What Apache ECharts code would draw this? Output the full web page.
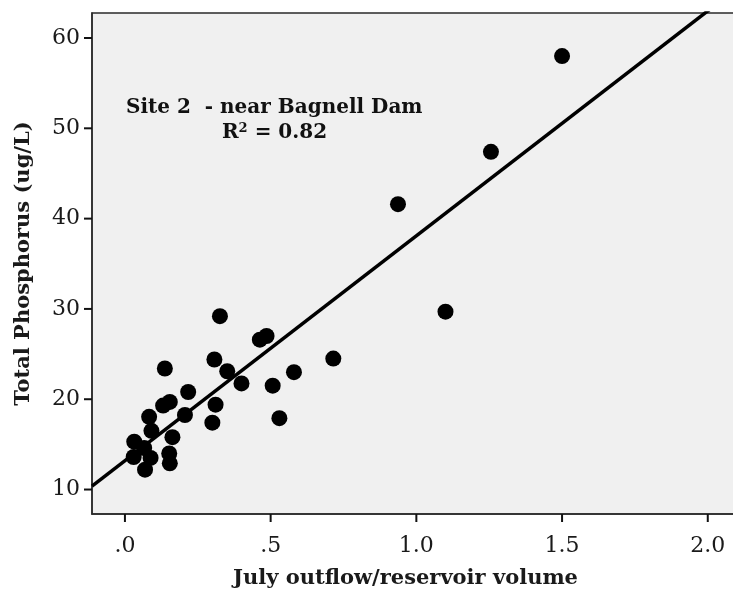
<!DOCTYPE html>
<html>
<head>
<meta charset="utf-8">
<script src="https://cdn.jsdelivr.net/npm/echarts@6/dist/echarts.min.js"></script>
<style>
html,body{margin:0;padding:0;background:#fff;}
#chart{width:733px;height:591px;}
</style>
</head>
<body>
<div id="chart"></div>
<script>
// ---- data ----
const outflowRatio = [1.50, 1.256, 0.937, 1.10, 0.715, 0.58, 0.53, 0.507, 0.463, 0.486,
  0.40, 0.351, 0.307, 0.326, 0.311, 0.30, 0.217, 0.206, 0.137, 0.154,
  0.131, 0.083, 0.091, 0.163, 0.152, 0.154, 0.032, 0.066, 0.030, 0.088, 0.069];
const totalPhosphorus = [58.0, 47.4, 41.6, 29.7, 24.5, 23.0, 17.9, 21.5, 26.6, 27.0,
  21.75, 23.1, 24.4, 29.2, 19.4, 17.4, 20.8, 18.25, 23.4, 19.7,
  19.3, 18.05, 16.5, 15.8, 14.0, 12.9, 15.3, 14.6, 13.6, 13.5, 12.2];
const fitIntercept = 13.2;
const fitSlope = 24.9;
const xTickValues = [0, 0.5, 1.0, 1.5, 2.0];
const xTickLabels = ['.0', '.5', '1.0', '1.5', '2.0'];
const yTickValues = [10, 20, 30, 40, 50, 60];
const yTickLabels = ['10', '20', '30', '40', '50', '60'];
const xRange = [-0.113, 2.09];
const yRange = [7.29, 62.77];

const points = outflowRatio.map((x, i) => [x, totalPhosphorus[i]]);
const fitLine = xRange.map(x => [x, fitIntercept + fitSlope * x]);

const serif = "'DejaVu Serif', 'Liberation Serif', serif";
const frameColor = '#2a2a2a';
const TICK_LEN = 8;

function tickSeries(data, vertical) {
  return {
    type: 'custom', data: data, clip: false, silent: true, z: 5,
    renderItem: function (params, api) {
      const p = api.coord([api.value(0), api.value(1)]);
      const shape = vertical
        ? {x1: p[0], y1: p[1], x2: p[0], y2: p[1] + TICK_LEN}
        : {x1: p[0] - TICK_LEN, y1: p[1], x2: p[0], y2: p[1]};
      return {type: 'line', shape: shape, style: {stroke: '#111', lineWidth: 2}};
    }
  };
}

const chart = echarts.init(document.getElementById('chart'), null, {renderer: 'canvas'});
chart.setOption({
  animation: false,
  backgroundColor: '#ffffff',
  grid: {
    left: 92, top: 13, width: 642, height: 501,
    show: true, backgroundColor: '#f0f0f0', borderColor: frameColor, borderWidth: 1.5,
    containLabel: false, outerBoundsMode: 'none'
  },
  xAxis: {
    type: 'value', min: xRange[0], max: xRange[1], position: 'bottom',
    splitLine: {show: false},
    axisLine: {show: true, onZero: false, lineStyle: {color: frameColor, width: 1.5}},
    axisTick: {show: false},
    axisLabel: {
      customValues: xTickValues, margin: 21,
      formatter: v => { const i = xTickValues.findIndex(t => Math.abs(t - v) < 1e-9); return i >= 0 ? xTickLabels[i] : ''; },
      fontFamily: serif, fontSize: 22, color: '#1a1a1a'
    },
    name: 'July outflow/reservoir volume', nameLocation: 'middle', nameGap: 54,
    nameTextStyle: {fontFamily: serif, fontSize: 21, fontWeight: 'bold', color: '#1a1a1a', padding: [0, 15, 0, 0]}
  },
  yAxis: {
    type: 'value', min: yRange[0], max: yRange[1], position: 'left',
    splitLine: {show: false},
    axisLine: {show: true, onZero: false, lineStyle: {color: frameColor, width: 1.5}},
    axisTick: {show: false},
    axisLabel: {
      customValues: yTickValues, margin: 12,
      formatter: v => { const i = yTickValues.findIndex(t => Math.abs(t - v) < 1e-9); return i >= 0 ? yTickLabels[i] : ''; },
      fontFamily: serif, fontSize: 22, color: '#1a1a1a'
    },
    name: 'Total Phosphorus (ug/L)', nameLocation: 'middle', nameGap: 58,
    nameTextStyle: {fontFamily: serif, fontSize: 21, fontWeight: 'bold', color: '#1a1a1a'}
  },
  series: [
    {
      type: 'line', data: fitLine, showSymbol: false, symbol: 'none', clip: true,
      lineStyle: {color: '#000', width: 3.5}, z: 2
    },
    {
      type: 'scatter', data: points, symbol: 'circle', symbolSize: 16,
      itemStyle: {color: '#000', opacity: 1}, z: 3
    },
    tickSeries(xTickValues.map(v => [v, yRange[0]]), true),
    tickSeries(yTickValues.map(v => [xRange[0], v]), false)
  ],
  graphic: [
    {
      type: 'text', left: 126, top: 98,
      style: {text: 'Site 2  - near Bagnell Dam', fontFamily: serif, fontSize: 20, fontWeight: 'bold', fill: '#111'}
    },
    {
      type: 'text', left: 222, top: 122,
      style: {
        text: 'R{sup|2} = 0.82', fontFamily: serif, fontSize: 20, fontWeight: 'bold', fill: '#111',
        rich: {sup: {fontFamily: serif, fontSize: 13, fontWeight: 'bold', fill: '#111', verticalAlign: 'top', padding: [0, 0, 8, 0]}}
      }
    }
  ]
});
</script>
</body>
</html>
